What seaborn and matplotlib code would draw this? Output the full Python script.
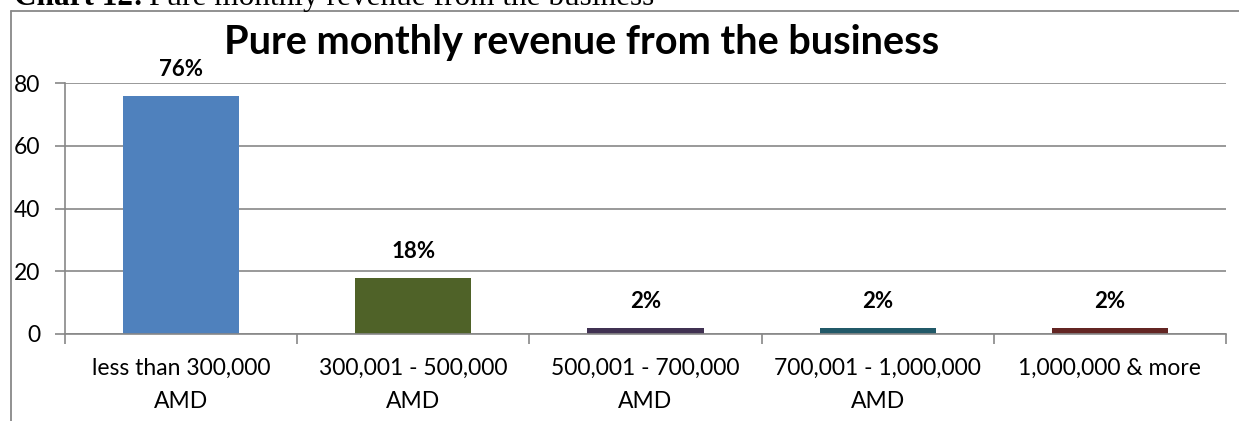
import matplotlib
matplotlib.use("Agg")
import matplotlib.pyplot as plt
import seaborn as sns
import pandas as pd
from matplotlib.lines import Line2D

categories = ["less than 300,000\nAMD", "300,001 - 500,000\nAMD", "500,001 - 700,000\nAMD",
              "700,001 - 1,000,000\nAMD", "1,000,000 & more"]
shares = [76, 18, 2, 2, 2]
bar_colors = ["#4F81BD", "#4F6228", "#403152", "#215968", "#632523"]
y_ticks = [0, 20, 40, 60, 80]

sns.set_theme(style="white")
plt.rcParams["font.family"] = ["Lato", "DejaVu Sans"]

W, H = 1239, 421
df = pd.DataFrame({"category": categories, "share": shares})

fig = plt.figure(figsize=(W / 100, H / 100), dpi=100)
ax = fig.add_axes([65 / W, 1 - 334 / H, (1226 - 65) / W, (334 - 83) / H])

grid_c = "#878787"
sns.barplot(data=df, x="category", y="share", hue="category", palette=bar_colors,
            width=0.5, legend=False, ax=ax, zorder=3, saturation=1, linewidth=0)

ax.set_ylim(0, 80)
ax.set_xlim(-0.5, len(categories) - 0.5)
ax.set_yticks(y_ticks)
# category boundaries carry the tick marks, centres carry the labels
ax.set_xticks([i - 0.5 for i in range(len(categories) + 1)], minor=False)
ax.set_xticklabels([""] * (len(categories) + 1))
ax.set_xticks(range(len(categories)), minor=True)
ax.set_xticklabels(categories, minor=True, fontsize=16.5, color="#000000", linespacing=1.75)
ax.tick_params(axis="x", which="minor", length=0, pad=17)
ax.tick_params(axis="x", which="major", length=7, width=1.2, color=grid_c, direction="out", bottom=True)
ax.tick_params(axis="y", length=7, width=1.2, color=grid_c, direction="out", left=True,
               labelsize=16.5, labelcolor="#000000", pad=11)
ax.set_xlabel("")
ax.set_ylabel("")

ax.yaxis.grid(True, color=grid_c, linewidth=1.2, zorder=0)
ax.set_axisbelow(True)
for side in ["top", "right"]:
    ax.spines[side].set_visible(False)
for side in ["left", "bottom"]:
    ax.spines[side].set_color(grid_c)
    ax.spines[side].set_linewidth(1.2)
    ax.spines[side].set_zorder(4)

for i, v in enumerate(shares):
    ax.annotate(f"{v}%", (i, v), xytext=(0, 14), textcoords="offset points",
                ha="center", va="baseline", fontsize=16, fontweight="bold", color="#000000")

# chart frame and title
fig.add_artist(Line2D([10.5 / W, 10.5 / W], [0, 1 - 10.5 / H], transform=fig.transFigure,
                      color="#888888", linewidth=1.3))
fig.add_artist(Line2D([10.5 / W, 1], [1 - 10.5 / H, 1 - 10.5 / H], transform=fig.transFigure,
                      color="#888888", linewidth=1.3))
fig.text(582 / W, 1 - 54 / H, "Pure monthly revenue from the business", ha="center",
         va="baseline", fontsize=28.5, fontweight="bold", color="#000000")

# caption above the frame
cap = fig.text(14 / W, 1 - 5 / H, "Chart 12:", ha="left", va="baseline",
               fontsize=22.5, fontweight="bold", family="Liberation Serif", color="#000000")
fig.canvas.draw()
bb = cap.get_window_extent()
fig.text((bb.x1 + 6) / W, 1 - 5 / H, "Pure monthly revenue from the business",
         ha="left", va="baseline", fontsize=22.5, family="Liberation Serif", color="#000000")

fig.savefig("out.png", dpi=100)
